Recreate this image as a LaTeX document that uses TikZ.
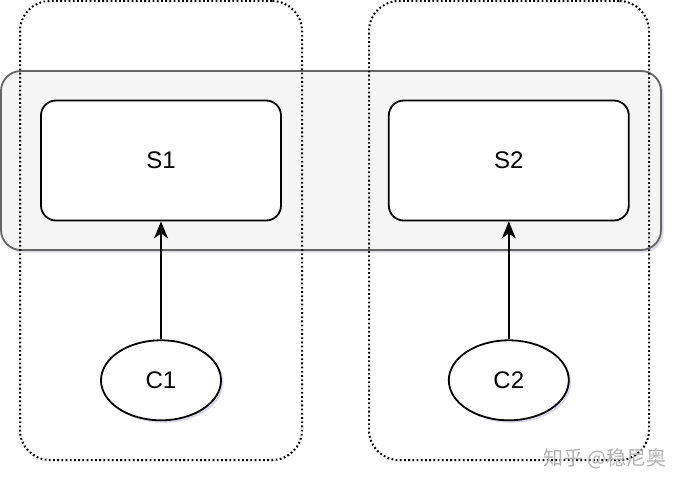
\documentclass[tikz,border=0pt]{standalone}
\usepackage{fontspec}
\setmainfont{Liberation Sans}
\newfontfamily\cjkfont{Noto Sans CJK SC}
\usetikzlibrary
  {
    positioning,      % place nodes relative to other nodes
    shapes.geometric, % ellipse
    shadows,          % soft drop shadows
    arrows.meta,      % arrow tips
  }

\definecolor{bandfill}{HTML}{F5F5F5}
\definecolor{bandline}{HTML}{666666}
\definecolor{shade}{RGB}{170,172,195}

\begin{document}
\begin{tikzpicture}
    [
      x=1pt, y=-1pt,
      soft/.style=
        {
          drop shadow={shadow xshift=2.5pt, shadow yshift=-2.5pt,
                       fill=shade, opacity=0.45},
        },
      group/.style=
        {
          rectangle,
          rounded corners=30pt,
          draw=black,
          line width=2pt,
          dash pattern=on 1.8pt off 2.4pt,
          minimum height=459pt,
          inner sep=0pt,
        },
      band/.style=
        {
          rectangle,
          rounded corners=20pt,
          draw=bandline,
          fill=bandfill,
          line width=1.8pt,
          minimum width=660pt,
          minimum height=179pt,
          inner sep=0pt,
          soft,
        },
      server/.style=
        {
          rectangle,
          rounded corners=15pt,
          draw=black,
          fill=white,
          line width=1.8pt,
          minimum width=240pt,
          minimum height=120pt,
          font=\fontsize{24}{28}\selectfont,
        },
      client/.style=
        {
          ellipse,
          draw=black,
          fill=white,
          line width=1.8pt,
          minimum width=120pt,
          minimum height=80pt,
          inner sep=0pt,
          font=\fontsize{24}{28}\selectfont,
          soft,
        },
      call/.style={-{Stealth[length=17pt, width=14pt, inset=5pt]}, line width=1.8pt},
      node distance=106pt,
    ]
    \useasboundingbox (0,0) rectangle (684,486);

    \node[band]                      (band)  at (331,160.5)     {};
    \node[group, minimum width=282pt] (left)  at (161,230.5)     {};
    \node[group, minimum width=280pt] (right) at (509,230.5)     {};

    \node[server] (s1)                       at (161,160.5)     {S1};
    \node[server] (s2) [right=of s1]                            {S2};
    \node[client] (c1) [below=118pt of s1]                      {C1};
    \node[client] (c2) [below=118pt of s2]                      {C2};

    \draw[call] (c1) -- (s1);
    \draw[call] (c2) -- (s2);

    \node[text=black!30, font=\cjkfont\fontsize{20}{20}\selectfont]
      (mark) at (605,459) {知乎 @稳尼奥};
  \end{tikzpicture}
\end{document}
